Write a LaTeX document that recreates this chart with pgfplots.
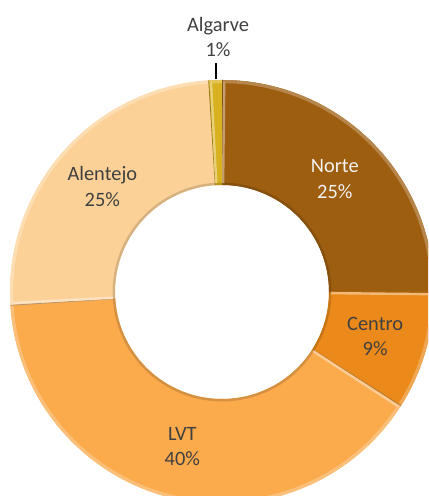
\documentclass[border=0pt]{standalone}
\usepackage{pgfplots}
\usepackage{pgfplotstable}
\pgfplotsset{compat=1.18}
\usepackage{fontspec}
\setmainfont{Carlito}
\definecolor{cNorte}{RGB}{158,94,16}
\definecolor{cCentro}{RGB}{235,138,26}
\definecolor{cLVT}{RGB}{251,170,76}
\definecolor{cAlentejo}{RGB}{252,209,152}
\definecolor{cAlgarve}{RGB}{216,176,32}
\definecolor{lbl}{RGB}{64,64,64}
\pgfplotstableread{
name value
Norte 25
Centro 9
LVT 40
Alentejo 25
Algarve 1
}\donutdata
\newcommand\getv[2]{\pgfplotstablegetelem{#1}{value}\of\donutdata\xdef#2{\pgfplotsretval}}
\getv{0}{\vA}\getv{1}{\vB}\getv{2}{\vC}\getv{3}{\vD}\getv{4}{\vE}
\pgfmathsetmacro\aA{90}
\pgfmathsetmacro\aB{\aA-3.6*\vA}
\pgfmathsetmacro\aC{\aB-3.6*\vB}
\pgfmathsetmacro\aD{\aC-3.6*\vC}
\pgfmathsetmacro\aE{\aD-3.6*\vD}
\pgfmathsetmacro\aF{\aE-3.6*\vE}
\def\Ro{212}\def\Ri{107}
% sector: start, end, color
\newcommand\sector[3]{%
  \fill[#3] (axis cs:{\Ro*cos(#1)},{\Ro*sin(#1)}) arc[start angle=#1, end angle=#2, radius=106pt]
    -- (axis cs:{\Ri*cos(#2)},{\Ri*sin(#2)}) arc[start angle=#2, end angle=#1, radius=53.5pt] -- cycle;
  % bevel: light outer rim, slightly darker inner rim
  \draw[#3!75!white, line width=1.6pt] (axis cs:{(\Ro-1.6)*cos(#1)},{(\Ro-1.6)*sin(#1)}) arc[start angle=#1, end angle=#2, radius=105.2pt];
  \draw[#3!85!black, line width=1.2pt] (axis cs:{(\Ri+1.2)*cos(#1)},{(\Ri+1.2)*sin(#1)}) arc[start angle=#1, end angle=#2, radius=54.1pt];
  \draw[#3!70!black, line width=0.4pt] (axis cs:{\Ri*cos(#1)},{\Ri*sin(#1)}) -- (axis cs:{\Ro*cos(#1)},{\Ro*sin(#1)});
  \draw[#3!60!white, line width=1.2pt] (axis cs:{(\Ri+2)*cos(#1-0.6)},{(\Ri+2)*sin(#1-0.6)}) -- (axis cs:{(\Ro-2)*cos(#1-0.6)},{(\Ro-2)*sin(#1-0.6)});
}
\newcommand\slabel[5]{%
  \node[text=#5, align=center, font=\fontsize{10.2}{12.7}\selectfont] at (axis cs:{159.5*cos((#1+#2)/2)},{159.5*sin((#1+#2)/2)}) {#3\\#4\%};
}
\begin{document}
\begin{tikzpicture}
\begin{axis}[
  x=0.5pt, y=0.5pt,
  xmin=-222, xmax=206, ymin=-204, ymax=292,
  hide axis, clip=true,
]
\sector{\aA}{\aB}{cNorte}
\sector{\aB}{\aC}{cCentro}
\sector{\aC}{\aD}{cLVT}
\sector{\aD}{\aE}{cAlentejo}
\sector{\aE}{\aF}{cAlgarve}
\slabel{\aA}{\aB}{Norte}{\vA}{white!95!black}
\slabel{\aB}{\aC}{Centro}{\vB}{lbl}
\slabel{\aC}{\aD}{LVT}{\vC}{lbl}
\slabel{\aD}{\aE}{Alentejo}{\vD}{lbl}
\draw[black, line width=0.8pt] (axis cs:-6,213) -- (axis cs:-6,229);
\node[text=lbl, align=center, font=\fontsize{10.2}{12.7}\selectfont] at (axis cs:-4,255) {Algarve\\\vE\%};
\end{axis}
\pgfresetboundingbox
\useasboundingbox (current axis.south west) rectangle (current axis.north east);
\end{tikzpicture}
\end{document}
